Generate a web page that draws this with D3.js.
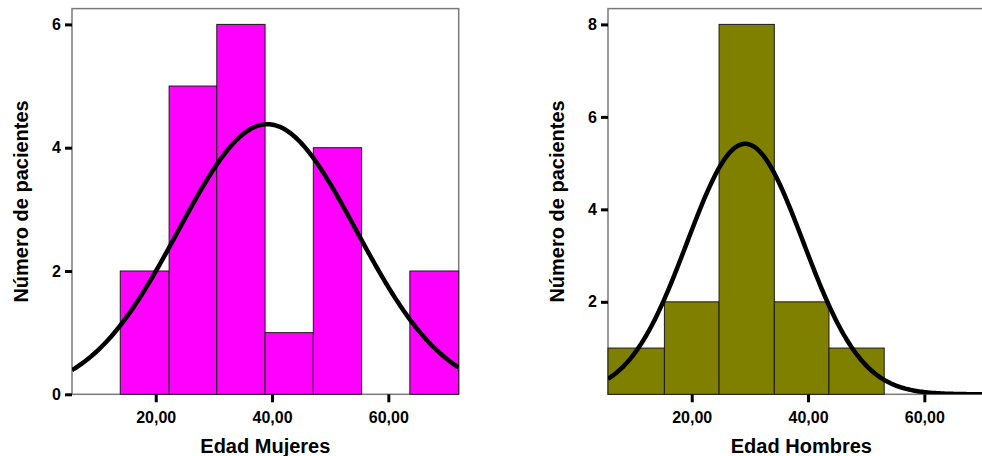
<!DOCTYPE html>
<html>
<head>
<meta charset="utf-8">
<script src="https://cdn.jsdelivr.net/npm/d3@7"></script>
<style>
	body { margin: 0; background: #fff; }
	svg { display: block; font-family: "Liberation Sans", Arial, sans-serif; font-weight: bold; }
</style>
</head>
<body>
<svg width="982" height="456"></svg>
<script>
// histogram bins (edges in years) and counts
const edgesMujeres = [13.9, 22.3, 30.5, 38.8, 47.1, 55.4, 63.7, 72.1];
const countsMujeres = [2, 5, 6, 1, 4, 0, 2];
const edgesHombres = [5.6, 15.3, 24.7, 34.2, 43.6, 53.1];
const countsHombres = [1, 2, 8, 2, 1];

// normal curve fitted by the stats package
const normalMujeres = { mean: 39.2, sd: 15.3, n: 20 };
const normalHombres = { mean: 29.2, sd: 10.0, n: 14 };

const xTicks = [20, 40, 60];
const yTicksMujeres = [0, 2, 4, 6];
const yTicksHombres = [2, 4, 6, 8];
const xDomain = [5.6, 72.1];

const svg = d3.select("svg");

function fmt(d) {
	return d.toFixed(2).replace(".", ",");
}

function drawPanel(opt) {
	const left = opt.left, right = opt.left + 386.7;
	const top = 8.6, bottom = 394.3;

	const x = d3.scaleLinear().domain(xDomain).range([left, right]);
	const y = d3.scaleLinear().domain([0, opt.yMax]).range([bottom, 24.4]);

	const g = svg.append("g");

	const clipId = "clip-" + opt.name;
	svg.append("clipPath").attr("id", clipId)
		.append("rect")
		.attr("x", left).attr("y", top)
		.attr("width", right - left).attr("height", bottom - top);

	// frame
	g.append("rect")
		.attr("x", left).attr("y", top)
		.attr("width", right - left).attr("height", bottom - top)
		.attr("fill", "none")
		.attr("stroke", "#7a7a7a")
		.attr("stroke-width", 1.5);

	// bars
	const bins = opt.counts.map((c, i) => ({ x0: opt.edges[i], x1: opt.edges[i + 1], count: c }))
		.filter(d => d.count > 0);

	g.append("g")
		.selectAll("rect")
		.data(bins)
		.enter().append("rect")
		.attr("x", d => x(d.x0))
		.attr("y", d => y(d.count))
		.attr("width", d => x(d.x1) - x(d.x0))
		.attr("height", d => y(0) - y(d.count))
		.attr("fill", opt.color)
		.attr("stroke", "#1a1a1a")
		.attr("stroke-width", 1);

	// normal curve
	const binW = opt.edges[1] - opt.edges[0];
	const nc = opt.normal;
	const pts = d3.range(xDomain[0], xDomain[1] + 0.25, 0.25).map(v => {
		const z = (v - nc.mean) / nc.sd;
		return [v, nc.n * binW / (nc.sd * Math.sqrt(2 * Math.PI)) * Math.exp(-0.5 * z * z)];
	});

	g.append("path")
		.datum(pts)
		.attr("clip-path", "url(#" + clipId + ")")
		.attr("fill", "none")
		.attr("stroke", "#000")
		.attr("stroke-width", 4.5)
		.attr("stroke-linejoin", "round")
		.attr("d", d3.line().x(d => x(d[0])).y(d => y(d[1])));

	// axes
	const xAxis = g.append("g")
		.attr("transform", `translate(0,${bottom})`)
		.call(d3.axisBottom(x).tickValues(xTicks).tickFormat(fmt).tickSize(8).tickPadding(9));

	const yAxis = g.append("g")
		.attr("transform", `translate(${left},0)`)
		.call(d3.axisLeft(y).tickValues(opt.yTicks).tickFormat(d3.format("d")).tickSize(7).tickPadding(4));

	[xAxis, yAxis].forEach(a => {
		a.attr("font-size", 16)
			.attr("font-family", "'Liberation Sans', Arial, sans-serif")
			.attr("font-weight", "bold");
		a.select(".domain").remove();
		a.selectAll(".tick line").attr("stroke", "#000").attr("stroke-width", 3);
		a.selectAll(".tick text").attr("fill", "#000");
	});

	// titles
	g.append("text")
		.attr("x", (left + right) / 2)
		.attr("y", 453)
		.attr("text-anchor", "middle")
		.attr("font-size", 20)
		.text(opt.xTitle);

	g.append("text")
		.attr("transform", `translate(${left - 44},${(top + bottom) / 2}) rotate(-90)`)
		.attr("text-anchor", "middle")
		.attr("font-size", 20)
		.text("Número de pacientes");
}

drawPanel({
	name: "mujeres",
	left: 72,
	yMax: 6,
	yTicks: yTicksMujeres,
	edges: edgesMujeres,
	counts: countsMujeres,
	normal: normalMujeres,
	color: "#ff00ff",
	xTitle: "Edad Mujeres"
});

drawPanel({
	name: "hombres",
	left: 608,
	yMax: 8,
	yTicks: yTicksHombres,
	edges: edgesHombres,
	counts: countsHombres,
	normal: normalHombres,
	color: "#808000",
	xTitle: "Edad Hombres"
});
</script>
</body>
</html>
